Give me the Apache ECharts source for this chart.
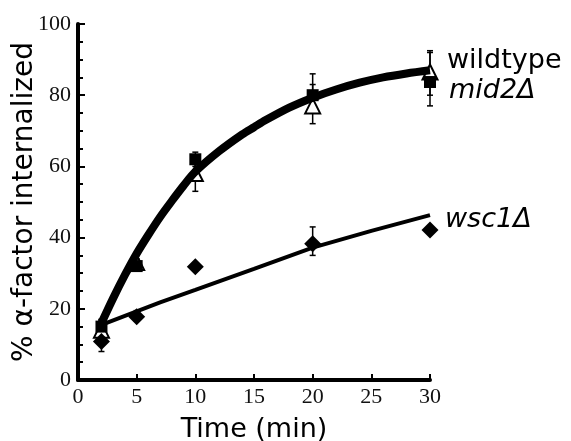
<!DOCTYPE html>
<html>
<head>
<meta charset="utf-8">
<script src="https://cdn.jsdelivr.net/npm/echarts@6/dist/echarts.min.js"></script>
<style>
html, body { margin: 0; padding: 0; background: #fff; }
#chart { width: 571px; height: 441px; }
</style>
</head>
<body>
<div id="chart"></div>
<script>
// time points (min)
var times = [2, 5, 10, 20, 30];

// wildtype (open triangles)
var wtVals = [14, 33, 58, 77, 86.5];
var wtLow = [12, 31, 53, 72, 80];
var wtHigh = [17, 35, 62, 86, 92];

// mid2 delta (filled squares)
var midVals = [15, 32, 62, 80, 83.7];
var midLow = [13, 31, 60, 77, 77];
var midHigh = [17, 34, 64, 83, 92.5];

// wsc1 delta (filled diamonds)
var wscVals = [10.8, 17.8, 31.8, 38.3, 42.1];
var wscLow = [8, 16.5, 31.8, 35, 41];
var wscHigh = [13, 19.5, 31.8, 43, 43];

// fitted curves
var fitTopT = [2, 3, 4, 5, 6, 7, 8, 9, 10, 12, 14, 15, 16, 18, 20, 22, 24, 26, 28, 30];
var fitTopY = [16, 23, 29.5, 35.5, 40.8, 45.8, 50.3, 54.6, 58.5, 64.2, 69, 71, 73, 76.5, 79.3, 81.6, 83.5, 85, 86.1, 87];
var fitLowT = [2, 5, 7, 10, 15, 20, 25, 30];
var fitLowY = [15.5, 19.3, 21.8, 25.3, 31.2, 37.2, 41.9, 46.3];

function pairs(xs, ys) {
  return xs.map(function (x, i) { return [x, ys[i]]; });
}
function errRows(lo, hi) {
  return times.map(function (t, i) { return [t, lo[i], hi[i]]; });
}

function errItem(params, api) {
  var top = api.coord([api.value(0), api.value(2)]);
  var bot = api.coord([api.value(0), api.value(1)]);
  var w = 3;
  var st = { stroke: '#000', lineWidth: 1.5 };
  return {
    type: 'group',
    children: [
      { type: 'line', shape: { x1: top[0], y1: top[1], x2: bot[0], y2: bot[1] }, style: st },
      { type: 'line', shape: { x1: top[0] - w, y1: top[1], x2: top[0] + w, y2: top[1] }, style: st },
      { type: 'line', shape: { x1: bot[0] - w, y1: bot[1], x2: bot[0] + w, y2: bot[1] }, style: st }
    ]
  };
}

var sans = 'DejaVu Sans';
var serif = 'Liberation Serif';

var chart = echarts.init(document.getElementById('chart'));
chart.setOption({
  animation: false,
  backgroundColor: '#fff',
  grid: { left: 78, right: 141, top: 24, bottom: 61, containLabel: false, outerBoundsMode: 'none' },
  xAxis: {
    type: 'value', min: 0, max: 30, interval: 5,
    name: 'Time (min)', nameLocation: 'middle', nameGap: 36,
    nameTextStyle: { fontFamily: sans, fontSize: 27, color: '#000' },
    axisLine: { lineStyle: { color: '#000', width: 4 } },
    axisTick: { inside: true, length: 6, lineStyle: { color: '#000', width: 2 } },
    axisLabel: { fontFamily: serif, fontSize: 22, color: '#111', margin: 6 },
    splitLine: { show: false }
  },
  yAxis: {
    type: 'value', min: 0, max: 100, interval: 20,
    name: '% \u03b1-factor internalized', nameLocation: 'middle', nameGap: 39, nameMoveOverlap: false,
    nameTextStyle: { fontFamily: sans, fontSize: 28, color: '#000' },
    axisLine: { lineStyle: { color: '#000', width: 4 } },
    axisTick: { inside: true, length: 7, lineStyle: { color: '#000', width: 2 } },
    minorTick: { show: true, splitNumber: 4, length: 5, lineStyle: { color: '#000', width: 2 } },
    axisLabel: { fontFamily: serif, fontSize: 22, color: '#111', margin: 7 },
    splitLine: { show: false }
  },
  graphic: [
    { type: 'text', left: 447, top: 47, style: { text: 'wildtype', font: '27px "DejaVu Sans"', fill: '#000' } },
    { type: 'text', left: 449, top: 77, style: { text: 'mid2\u0394', font: 'italic 27px "DejaVu Sans"', fill: '#000' } },
    { type: 'text', left: 445, top: 206, style: { text: 'wsc1\u0394', font: 'italic 27px "DejaVu Sans"', fill: '#000' } }
  ],
  series: [
    { type: 'custom', renderItem: errItem, data: errRows(wtLow, wtHigh), z: 3 },
    { type: 'custom', renderItem: errItem, data: errRows(midLow, midHigh), z: 3 },
    { type: 'custom', renderItem: errItem, data: errRows(wscLow, wscHigh), z: 3 },
    {
      name: 'wildtype', type: 'scatter', data: pairs(times, wtVals), symbol: 'triangle', symbolSize: 15,
      itemStyle: { color: '#fff', borderColor: '#000', borderWidth: 2, opacity: 1 }, z: 4
    },
    {
      type: 'line', data: pairs(fitTopT, fitTopY), smooth: 0.3, showSymbol: false,
      lineStyle: { color: '#000', width: 8 }, z: 5
    },
    {
      name: 'mid2', type: 'scatter', data: pairs(times, midVals), symbol: 'rect', symbolSize: 12,
      itemStyle: { color: '#000', opacity: 1 }, z: 6
    },
    {
      type: 'line', data: pairs(fitLowT, fitLowY), smooth: false, showSymbol: false,
      lineStyle: { color: '#000', width: 4 }, z: 5
    },
    {
      name: 'wsc1', type: 'scatter', data: pairs(times, wscVals), symbol: 'diamond', symbolSize: 17,
      itemStyle: { color: '#000', opacity: 1 }, z: 6
    }
  ]
});
</script>
</body>
</html>
